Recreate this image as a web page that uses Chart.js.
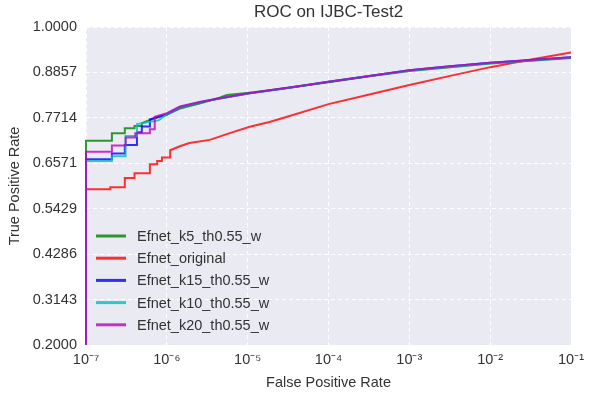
<!DOCTYPE html>
<html>
<head>
<meta charset="utf-8">
<script src="https://cdn.jsdelivr.net/npm/chart.js@4.4.1/dist/chart.umd.min.js"></script>
<style>
  html, body { margin: 0; padding: 0; background: #ffffff; }
  #wrap { width: 590px; height: 398px; }
</style>
</head>
<body>
<div id="wrap"><canvas id="c" width="590" height="398"></canvas></div>
<script>
// ---- Data ----
const chartTitle = 'ROC on IJBC-Test2';
const xAxisTitle = 'False Positive Rate';
const yAxisTitle = 'True Positive Rate';

const xTickValues = [1e-7, 1e-6, 1e-5, 1e-4, 1e-3, 1e-2, 1e-1];
const xTickLabels = ['10⁻⁷', '10⁻⁶', '10⁻⁵', '10⁻⁴', '10⁻³', '10⁻²', '10⁻¹'];
const yTickLabels = ['0.2000', '0.3143', '0.4286', '0.5429', '0.6571', '0.7714', '0.8857', '1.0000'];

const seriesNames = ['Efnet_k5_th0.55_w', 'Efnet_original', 'Efnet_k15_th0.55_w', 'Efnet_k10_th0.55_w', 'Efnet_k20_th0.55_w'];
const seriesColors = ['rgba(0,128,0,0.8)', 'rgba(255,0,0,0.8)', 'rgba(0,0,255,0.8)', 'rgba(0,191,191,0.8)', 'rgba(191,0,191,0.8)'];

const fprK5 = [1e-7, 1e-7, 2.09e-7, 2.09e-7, 3.02e-7, 3.02e-7, 3.98e-7, 3.98e-7, 4.9e-7, 4.9e-7, 6.17e-7, 8.1e-7, 1e-6, 1.45e-6, 2.6e-6, 4.5e-6, 5.5e-6, 8e-6, 1.2e-5, 3.3e-5, 1e-4, 3.2e-4, 1e-3, 3.2e-3, 1e-2, 3.2e-2, 1e-1];
const tprK5 = [0.0, 0.714, 0.714, 0.733, 0.733, 0.745, 0.745, 0.751, 0.751, 0.758, 0.766, 0.774, 0.780, 0.795, 0.808, 0.822, 0.829, 0.832, 0.836, 0.848, 0.861, 0.876, 0.889, 0.899, 0.908, 0.915, 0.922];

const fprOrig = [1e-7, 1e-7, 2.0e-7, 2.0e-7, 3.02e-7, 3.02e-7, 3.98e-7, 3.98e-7, 6.17e-7, 6.17e-7, 7.6e-7, 7.6e-7, 8.7e-7, 8.7e-7, 1.1e-6, 1.1e-6, 1.45e-6, 1.9e-6, 3.4e-6, 6e-6, 1.06e-5, 1.86e-5, 3.3e-5, 1e-4, 3.2e-4, 1e-3, 3.2e-3, 1e-2, 3.2e-2, 1e-1];
const tprOrig = [0.0, 0.592, 0.592, 0.597, 0.597, 0.620, 0.620, 0.632, 0.632, 0.655, 0.655, 0.663, 0.663, 0.672, 0.672, 0.690, 0.700, 0.708, 0.716, 0.733, 0.749, 0.761, 0.776, 0.806, 0.830, 0.854, 0.877, 0.899, 0.918, 0.936];

const fprK15 = [1e-7, 1e-7, 2.09e-7, 2.09e-7, 3.02e-7, 3.02e-7, 4.27e-7, 4.27e-7, 4.9e-7, 4.9e-7, 6.17e-7, 6.17e-7, 1e-6, 1.45e-6, 2.6e-6, 4.5e-6, 1.06e-5, 3.3e-5, 1e-4, 3.2e-4, 1e-3, 3.2e-3, 1e-2, 3.2e-2, 1e-1];
const tprK15 = [0.0, 0.667, 0.667, 0.682, 0.682, 0.703, 0.703, 0.735, 0.735, 0.750, 0.750, 0.768, 0.780, 0.798, 0.811, 0.820, 0.833, 0.847, 0.862, 0.877, 0.891, 0.901, 0.910, 0.917, 0.924];

const fprK10 = [1e-7, 1e-7, 2.09e-7, 2.09e-7, 3.09e-7, 3.09e-7, 4.27e-7, 4.27e-7, 7.9e-7, 1e-6, 1.45e-6, 2.6e-6, 4.5e-6, 1.06e-5, 3.3e-5, 1e-4, 3.2e-4, 1e-3, 3.2e-3, 1e-2, 3.2e-2, 1e-1];
const tprK10 = [0.0, 0.663, 0.663, 0.675, 0.675, 0.726, 0.726, 0.756, 0.765, 0.780, 0.798, 0.811, 0.820, 0.833, 0.847, 0.862, 0.877, 0.890, 0.900, 0.909, 0.916, 0.923];

const fprK20 = [1e-7, 1e-7, 2.09e-7, 2.09e-7, 3.09e-7, 3.09e-7, 4.07e-7, 4.07e-7, 6.17e-7, 6.17e-7, 7.08e-7, 7.08e-7, 1e-6, 1.45e-6, 2.6e-6, 4.5e-6, 1.06e-5, 3.3e-5, 1e-4, 3.2e-4, 1e-3, 3.2e-3, 1e-2, 3.2e-2, 1e-1];
const tprK20 = [0.0, 0.686, 0.686, 0.702, 0.702, 0.722, 0.722, 0.733, 0.733, 0.743, 0.743, 0.774, 0.783, 0.800, 0.812, 0.821, 0.834, 0.848, 0.862, 0.877, 0.891, 0.901, 0.910, 0.917, 0.924];

const seriesFpr = [fprK5, fprOrig, fprK15, fprK10, fprK20];
const seriesTpr = [tprK5, tprOrig, tprK15, tprK10, tprK20];

// ---- Build chart ----
const FONT = '"Liberation Sans", Arial, sans-serif';
const TEXT = '#333333';
const nSeries = seriesNames.length;

const datasets = seriesNames.map((name, i) => ({
  label: name,
  data: seriesFpr[i].map((x, j) => ({ x: x, y: seriesTpr[i][j] })),
  borderColor: seriesColors[i],
  backgroundColor: seriesColors[i],
  borderWidth: 2,
  pointRadius: 0,
  fill: false,
  tension: 0,
  order: nSeries - i,           // later series drawn on top, like matplotlib
  clip: { left: 2, top: 0, right: 0, bottom: 0 }
}));

const bgPlugin = {
  id: 'bg',
  beforeDraw(chart) {
    const a = chart.chartArea, ctx = chart.ctx;
    ctx.save();
    ctx.fillStyle = '#eaeaf2';
    ctx.fillRect(a.left, a.top, a.right - a.left, a.bottom - a.top);
    ctx.restore();
  }
};

const overlayPlugin = {
  id: 'overlay',
  afterDraw(chart) {
    const a = chart.chartArea, ctx = chart.ctx;
    ctx.save();
    // title
    ctx.fillStyle = TEXT;
    ctx.font = '17px ' + FONT;
    ctx.textAlign = 'center';
    ctx.textBaseline = 'middle';
    ctx.fillText(chartTitle, (a.left + a.right) / 2, 12);
    // legend inside plot, lower left
    ctx.font = '14.5px ' + FONT;
    ctx.textAlign = 'left';
    const x0 = a.left + 10, lineLen = 30, rowH = 22.2, y0 = 236;
    seriesNames.forEach((name, i) => {
      const y = y0 + i * rowH;
      ctx.strokeStyle = seriesColors[i];
      ctx.lineWidth = 3;
      ctx.beginPath();
      ctx.moveTo(x0, y);
      ctx.lineTo(x0 + lineLen, y);
      ctx.stroke();
      ctx.fillStyle = TEXT;
      ctx.fillText(name, x0 + lineLen + 11, y + 1);
    });
    ctx.restore();
  }
};

new Chart(document.getElementById('c'), {
  type: 'line',
  data: { datasets: datasets },
  options: {
    responsive: false,
    animation: false,
    layout: { padding: { left: 0, right: 18, top: 27, bottom: 0 } },
    plugins: {
      legend: { display: false },
      title: { display: false },
      tooltip: { enabled: false }
    },
    scales: {
      x: {
        type: 'logarithmic',
        min: 1e-7,
        max: 1e-1,
        afterBuildTicks(scale) { scale.ticks = xTickValues.map(v => ({ value: v })); },
        afterFit(scale) { scale.height = 53; },
        ticks: {
          autoSkip: false, maxRotation: 0, minRotation: 0, padding: 6,
          color: TEXT, font: { family: FONT, size: 14.5 },
          callback(value, index) { return xTickLabels[index]; }
        },
        grid: { color: '#ffffff', lineWidth: 1, drawTicks: false },
        border: { display: false, dash: [4, 3] },
        title: { display: true, text: xAxisTitle, color: TEXT, font: { family: FONT, size: 14.5 }, padding: { top: 0, bottom: 6 } }
      },
      y: {
        type: 'linear',
        min: 0.2,
        max: 1.0,
        afterBuildTicks(scale) { scale.ticks = yTickLabels.map(s => ({ value: parseFloat(s) })); },
        afterFit(scale) { scale.width = 86; },
        ticks: {
          autoSkip: false, padding: 9,
          color: TEXT, font: { family: FONT, size: 14.5 },
          callback(value, index) { return yTickLabels[index]; }
        },
        grid: { color: '#ffffff', lineWidth: 1, drawTicks: false },
        border: { display: false, dash: [4, 3] },
        title: { display: true, text: yAxisTitle, color: TEXT, font: { family: FONT, size: 14.5 }, padding: { top: 6, bottom: 0 } }
      }
    }
  },
  plugins: [bgPlugin, overlayPlugin]
});
</script>
</body>
</html>
